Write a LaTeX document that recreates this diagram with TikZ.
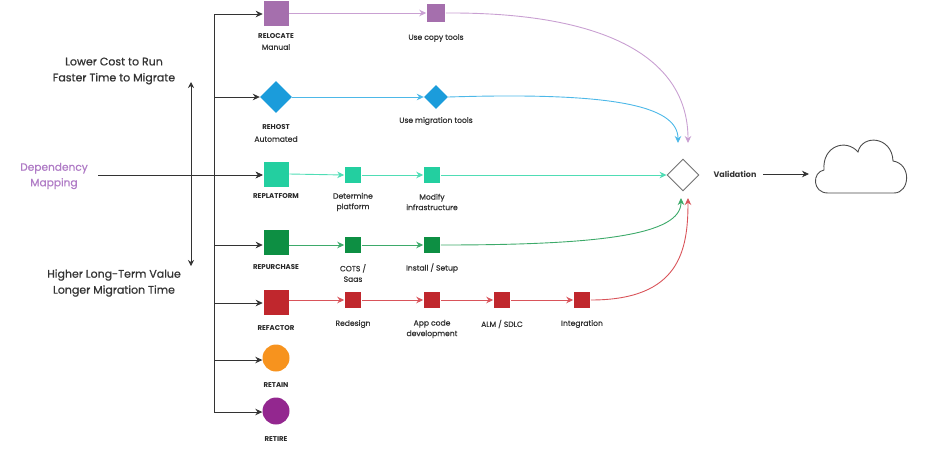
\documentclass[tikz,border=0pt]{standalone}
\usepackage{fontspec}
\setmainfont{Poppins}
\newfontfamily\medfont{Poppins}[FakeBold=0.7]
\usetikzlibrary{arrows.meta,shapes.geometric}
\definecolor{cPurp}{HTML}{A56FAD}
\definecolor{cPurpL}{HTML}{C9A0D2}
\definecolor{cBlue}{HTML}{1B9CDB}
\definecolor{cBlueL}{HTML}{4DB8E8}
\definecolor{cTeal}{HTML}{23CFA0}
\definecolor{cTealL}{HTML}{4FDDB5}
\definecolor{cGreen}{HTML}{0D8F43}
\definecolor{cGreenL}{HTML}{3DAA6A}
\definecolor{cRed}{HTML}{C0272D}
\definecolor{cRedL}{HTML}{D9545A}
\definecolor{cOrange}{HTML}{F7931E}
\definecolor{cRetire}{HTML}{93278F}
\definecolor{cDep}{HTML}{B07CC6}
\definecolor{cTxt}{HTML}{333333}
\tikzset{
  tip/.style={-{Stealth[length=7pt,width=6.5pt]}},
  blk/.style={draw=black!80, line width=0.8pt},
  bigbox/.style={rectangle, minimum size=26pt, inner sep=0pt, draw=white, line width=0.6pt},
  smallbox/.style={rectangle, minimum size=17pt, inner sep=0pt, draw=white, line width=0.5pt},
  bigcirc/.style={circle, minimum size=27pt, inner sep=0pt},
  bigdia/.style={diamond, minimum size=32pt, inner sep=0pt},
  smalldia/.style={diamond, minimum size=24pt, inner sep=0pt},
  capt/.style={font=\fontsize{7}{8}\selectfont\bfseries, text=black!85, align=center},
  sub/.style={font=\medfont\fontsize{7.6}{10.5}\selectfont, text=cTxt, align=center},
  side/.style={font=\medfont\fontsize{11}{16}\selectfont, text=cTxt, align=center},
  flow/.style={line width=0.9pt},
}
\begin{document}
\begin{tikzpicture}[x=1pt,y=-1pt]
\useasboundingbox (0,0) rectangle (939,451);
% trunk
\coordinate (t1) at (214,14);
\coordinate (t2) at (214,97);
\coordinate (t3) at (214,175);
\coordinate (t4) at (214,245);
\coordinate (t5) at (214,303);
\coordinate (t6) at (214,360);
\coordinate (t7) at (214,412);
\draw[blk] (t1) -- (t7);
% main nodes
\node[bigbox, fill=cPurp] (reloc) at (276,13) {};
\node[bigdia, fill=cBlue] (rehost) at (276,97) {};
\node[bigbox, fill=cTeal] (replat) at (276,174) {};
\node[bigbox, fill=cGreen] (repur) at (276,242) {};
\node[bigbox, fill=cRed] (refac) at (276,302) {};
\node[bigcirc, fill=cOrange] (retain) at (276,358) {};
\node[bigcirc, fill=cRetire] (retire) at (276,411) {};
\foreach \t/\n in {t1/reloc,t2/rehost,t3/replat,t4/repur,t5/refac,t6/retain,t7/retire}
  \draw[blk,tip] (\t) -- (\t -| \n.west);
% captions
\node[capt] (lreloc) at (276,36) {RELOCATE};
\node[sub] (lman) at (276,47) {Manual};
\node[capt] (lrehost) at (276,127) {REHOST};
\node[sub] (lauto) at (276,139) {Automated};
\node[capt] (lreplat) at (276,196) {REPLATFORM};
\node[capt] (lrepur) at (276,267) {REPURCHASE};
\node[capt] (lrefac) at (276,328) {REFACTOR};
\node[capt] (lretain) at (276,385) {RETAIN};
\node[capt] (lretire) at (276,439) {RETIRE};
% side texts
\node[side] (lower) at (114,71) {Lower Cost to Run\\Faster Time to Migrate};
\node[side] (higher) at (114,283) {Higher Long-Term Value\\Longer Migration Time};
\coordinate (vtop) at (191,82);
\coordinate (vbot) at (191,266);
\draw[blk,{Stealth[length=6pt,width=6pt]}-{Stealth[length=6pt,width=6pt]}] (vtop) -- (vbot);
\node[side, text=cDep, font=\medfont\fontsize{10.6}{15.5}\selectfont] (dep) at (54,176) {Dependency\\Mapping};
\coordinate (depstart) at (98,175);
\draw[blk,tip] (depstart) -- (depstart -| replat.west);
% validation
\node[diamond, minimum size=32pt, inner sep=0pt, draw=black!55, line width=0.9pt, fill=white] (valid) at (683,175) {};
\node[sub, font=\fontsize{8}{10}\selectfont\bfseries] (lvalid) at (735,174) {Validation};
\coordinate (vin1) at (688,143);
\coordinate (vin2) at (678,143);
\coordinate (vin3) at (681,198);
\coordinate (vin4) at (688,198);
% row 1 relocate
\node[smallbox, fill=cPurp, minimum size=19pt] (copy) at (436,13) {};
\node[sub] (lcopy) at (436,38) {Use copy tools};
\draw[flow, cPurpL, tip] (reloc.east) -- (copy.west);
\draw[flow, cPurpL, tip] (copy.east) .. controls (610,12) and (688,60) .. (vin1);
% row 2 rehost
\node[smalldia, fill=cBlue] (migr) at (436,97) {};
\node[sub] (lmigr) at (436,121) {Use migration tools};
\draw[flow, cBlueL, tip] (rehost.east) -- (migr.west);
\draw[flow, cBlueL, tip] (migr.east) .. controls (610,92) and (678,105) .. (vin2);
% row 3 replatform
\node[smallbox, fill=cTeal] (det) at (353,175) {};
\node[sub] (ldet) at (353,202) {Determine\\platform};
\node[smallbox, fill=cTeal] (mod) at (432,175) {};
\node[sub] (lmod) at (432,202) {Modify\\infrastructure};
\draw[flow, cTealL, tip] (replat.east) -- (det.west);
\draw[flow, cTealL, tip] (det.east) -- (mod.west);
\draw[flow, cTealL, tip] (mod.east) -- (valid.west);
% row 4 repurchase
\node[smallbox, fill=cGreen] (cots) at (353,245) {};
\node[sub] (lcots) at (353,273) {COTS /\\Saas};
\node[smallbox, fill=cGreen] (inst) at (432,245) {};
\node[sub] (linst) at (432,268) {Install / Setup};
\draw[flow, cGreenL, tip] (repur.east |- cots) -- (cots.west);
\draw[flow, cGreenL, tip] (cots.east) -- (inst.west);
\draw[flow, cGreenL, tip] (inst.east) .. controls (600,245) and (681,235) .. (vin3);
% row 5 refactor
\node[smallbox, fill=cRed] (redes) at (353,300) {};
\node[sub] (lredes) at (353,324) {Redesign};
\node[smallbox, fill=cRed] (app) at (432,300) {};
\node[sub] (lapp) at (432,329) {App code\\development};
\node[smallbox, fill=cRed] (alm) at (502,300) {};
\node[sub] (lalm) at (502,324) {ALM / SDLC};
\node[smallbox, fill=cRed] (integ) at (582,300) {};
\node[sub] (linteg) at (582,324) {Integration};
\draw[flow, cRedL, tip] (refac.east |- redes) -- (redes.west);
\draw[flow, cRedL, tip] (redes.east) -- (app.west);
\draw[flow, cRedL, tip] (app.east) -- (alm.west);
\draw[flow, cRedL, tip] (alm.east) -- (integ.west);
\draw[flow, cRedL, tip] (integ.east) .. controls (680,300) and (688,250) .. (vin4);
% to cloud
\coordinate (cloudin) at (809,174);
\draw[blk, tip] (lvalid.east) ++(3,0) -- (cloudin);
\draw[black!70, line width=0.9pt, fill=white]
  (828,193) -- (894,193)
  .. controls (910,193) and (912,164) .. (893,161)
  .. controls (892,136) and (862,134) .. (858,152)
  .. controls (846,138) and (822,146) .. (824,170)
  .. controls (812,172) and (812,193) .. (828,193) -- cycle;
\end{tikzpicture}
\end{document}
